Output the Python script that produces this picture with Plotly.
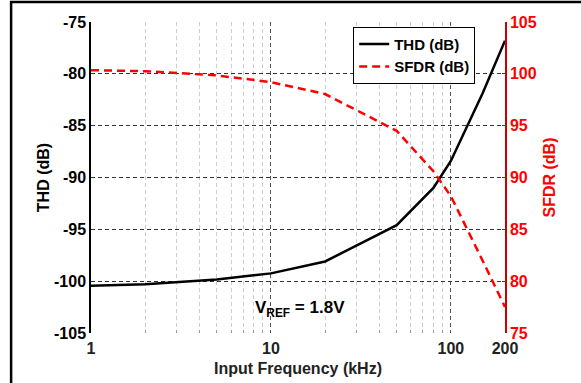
import plotly.graph_objects as go

freq_khz = [1, 2, 5, 10, 20, 50, 80, 100, 150, 200]
thd_db = [-100.45, -100.3, -99.85, -99.25, -98.1, -94.6, -91.0, -88.4, -81.9, -76.8]
sfdr_db = [100.35, 100.25, 99.85, 99.2, 98.05, 94.5, 90.6, 88.2, 82.0, 77.5]

x_tick_vals = [1, 10, 100, 200]
x_tick_text = ["1", "10", "100", "200"]
x_minor_vals = [2, 3, 4, 5, 6, 7, 8, 9, 20, 30, 40, 50, 60, 70, 80, 90]
left_ticks = [-105, -100, -95, -90, -85, -80, -75]
right_ticks = [75, 80, 85, 90, 95, 100, 105]

FONT = "Liberation Sans, Arial, sans-serif"

fig = go.Figure()
fig.add_trace(go.Scatter(x=freq_khz, y=thd_db, mode="lines", name="<b>THD (dB)</b>",
                         line=dict(color="black", width=2.5)))
fig.add_trace(go.Scatter(x=freq_khz, y=sfdr_db, mode="lines", name="<b>SFDR (dB)</b>",
                         yaxis="y2", line=dict(color="#ff0000", width=2.5, dash="8px,5px")))

fig.update_layout(
    width=581, height=383,
    margin=dict(l=91, r=76, t=22, b=50),
    paper_bgcolor="white", plot_bgcolor="white",
    font=dict(family=FONT, size=16, color="black"),
    showlegend=True,
    legend=dict(x=0.928, xanchor="right", y=0.985, yanchor="top",
                bordercolor="black", borderwidth=1, bgcolor="white",
                font=dict(family=FONT, size=15, color="black"),
                tracegroupgap=0, itemwidth=30),
    xaxis=dict(type="log", range=[0, 2.30103], tickvals=x_tick_vals, ticktext=[f"<b>{t}</b>" for t in x_tick_text],
               showline=False, zeroline=False,
               showgrid=True, gridcolor="#555555", griddash="4px,3px", gridwidth=1,
               ticks="", tickfont=dict(size=16, color="#222222"), ticklabelstandoff=4,
               minor=dict(tickvals=x_minor_vals, showgrid=True, gridcolor="#cccccc",
                          griddash="4px,3px", gridwidth=1, ticks="inside", ticklen=3, tickcolor="#999999"),
               title=dict(text="<b>Input Frequency (kHz)</b>", font=dict(size=16, color="#222222"), standoff=6),
               automargin=False),
    yaxis=dict(range=[-105, -75], tickvals=left_ticks, ticktext=[f"<b>{v}</b>" for v in left_ticks],
               showline=True, linecolor="black", linewidth=1.5, zeroline=False,
               showgrid=True, gridcolor="#333333", griddash="4px,3px", gridwidth=1,
               ticks="", tickfont=dict(size=16, color="black"),
               title=dict(text="<b>THD (dB)</b>", font=dict(size=16, color="black"), standoff=0),
               automargin=False),
    yaxis2=dict(range=[75, 105], tickvals=right_ticks, ticktext=[f"<b>{v}</b>" for v in right_ticks],
                overlaying="y", side="right", showline=True, linecolor="#cc0000", linewidth=1.5,
                zeroline=False, showgrid=False, ticks="inside", ticklen=3, tickcolor="#cc0000",
                tickfont=dict(size=16, color="#ff0000"),
                title=dict(text="<b>SFDR (dB)</b>", font=dict(size=16, color="#ff0000"), standoff=8),
                automargin=False),
)

fig.add_annotation(x=0.505, y=0.036, xref="paper", yref="paper",
                   text="<b>V<sub>REF</sub> = 1.8V</b>", showarrow=False,
                   font=dict(family=FONT, size=17, color="black"))

fig.add_shape(type="rect", xref="paper", yref="paper",
              x0=-0.193, x1=2.0, y0=-1.0, y1=1.064,
              line=dict(color="black", width=2.5), fillcolor="rgba(0,0,0,0)", layer="below")

fig.write_html("out.html", config={"displayModeBar": False},
               post_script="document.body.style.margin='0';document.body.style.padding='0';")
